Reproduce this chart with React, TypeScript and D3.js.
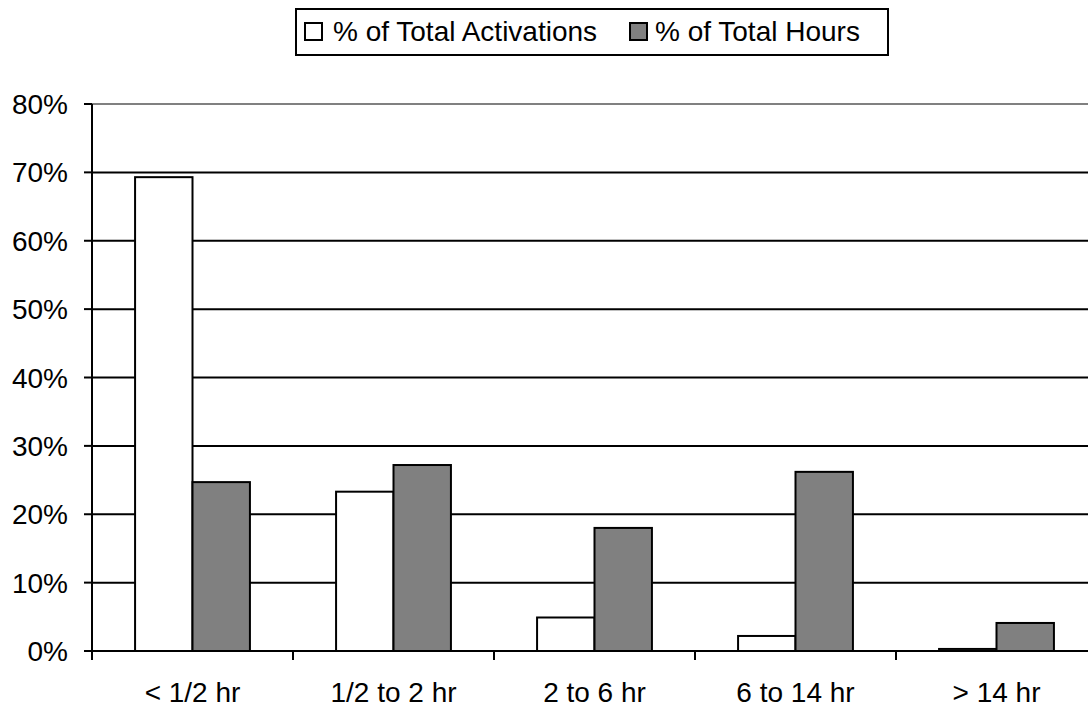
import { scaleBand, scaleLinear } from "d3";

const WIDTH = 1088;
const HEIGHT = 708;
const PLOT = { left: 92, right: 1097, top: 104, bottom: 651 };

const categories = ["< 1/2 hr", "1/2 to 2 hr", "2 to 6 hr", "6 to 14 hr", "> 14 hr"];
const seriesNames = ["% of Total Activations", "% of Total Hours"];
const activations = [69.3, 23.3, 4.9, 2.2, 0.3];
const hours = [24.7, 27.2, 18.0, 26.2, 4.1];
const yTicks = [0, 10, 20, 30, 40, 50, 60, 70, 80];
const seriesFill = ["#ffffff", "#808080"];

const FONT = "'Liberation Sans', Arial, Helvetica, sans-serif";

export default function App() {
  const x0 = scaleBand<string>()
    .domain(categories)
    .range([PLOT.left, PLOT.right]);

  const band = x0.bandwidth();
  const barWidth = band / 3.5;
  const x1 = scaleBand<string>()
    .domain(seriesNames)
    .range([0, barWidth * 2]);

  const y = scaleLinear().domain([0, 80]).range([PLOT.bottom, PLOT.top]);

  const values = [activations, hours];

  return (
    <svg
      width={WIDTH}
      height={HEIGHT}
      viewBox={`0 0 ${WIDTH} ${HEIGHT}`}
      style={{ position: "absolute", left: 0, top: 0, background: "#fff" }}
      fontFamily={FONT}
    >
      <rect x={0} y={0} width={WIDTH} height={HEIGHT} fill="#fff" />

      {/* gridlines */}
      {yTicks.map((t) => (
        <line
          key={`g${t}`}
          x1={PLOT.left}
          x2={PLOT.right}
          y1={y(t)}
          y2={y(t)}
          stroke={t === 80 ? "#808080" : "#000"}
          strokeWidth={2}
        />
      ))}

      {/* bars */}
      {seriesNames.map((s, si) =>
        categories.map((c, ci) => {
          const bx = (x0(c) ?? 0) + (band - barWidth * 2) / 2 + (x1(s) ?? 0);
          const v = values[si][ci];
          return (
            <rect
              key={`${s}-${c}`}
              x={bx}
              y={y(v)}
              width={barWidth}
              height={y(0) - y(v)}
              fill={seriesFill[si]}
              stroke="#000"
              strokeWidth={2}
            />
          );
        })
      )}

      {/* y axis */}
      <line x1={PLOT.left} x2={PLOT.left} y1={PLOT.top} y2={PLOT.bottom} stroke="#000" strokeWidth={2} />
      {yTicks.map((t) => (
        <g key={`yt${t}`}>
          <line x1={PLOT.left - 8} x2={PLOT.left} y1={y(t)} y2={y(t)} stroke="#000" strokeWidth={2} />
          <text
            x={68}
            y={y(t)}
            dy="0.36em"
            textAnchor="end"
            fontSize={28}
            fill="#000"
          >
            {`${t}%`}
          </text>
        </g>
      ))}

      {/* x axis */}
      <line x1={PLOT.left} x2={PLOT.right} y1={PLOT.bottom} y2={PLOT.bottom} stroke="#000" strokeWidth={2} />
      {[...categories.map((c) => x0(c) ?? 0), PLOT.right].map((tx, i) => (
        <line key={`xt${i}`} x1={tx} x2={tx} y1={PLOT.bottom} y2={PLOT.bottom + 9} stroke="#000" strokeWidth={2} />
      ))}
      {categories.map((c) => (
        <text
          key={`xl${c}`}
          x={(x0(c) ?? 0) + band / 2}
          y={702}
          textAnchor="middle"
          fontSize={28}
          fill="#000"
        >
          {c}
        </text>
      ))}

      {/* legend */}
      <rect x={296} y={9} width={592} height={46} fill="#fff" stroke="#000" strokeWidth={2} />
      <rect x={305} y={23} width={17} height={17} fill={seriesFill[0]} stroke="#000" strokeWidth={2} />
      <text x={333} y={41} fontSize={28} fill="#000">
        {seriesNames[0]}
      </text>
      <rect x={630} y={23} width={17} height={17} fill={seriesFill[1]} stroke="#000" strokeWidth={2} />
      <text x={655} y={41} fontSize={28} fill="#000">
        {seriesNames[1]}
      </text>
    </svg>
  );
}
